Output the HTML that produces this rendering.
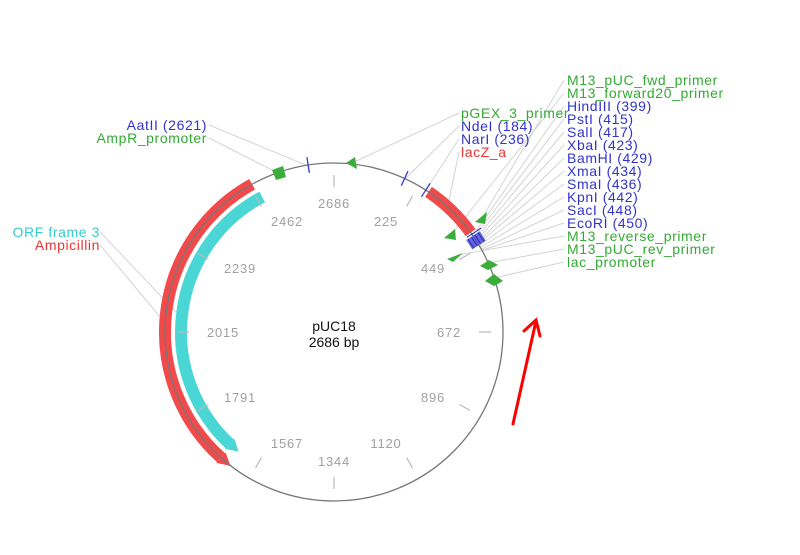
<!DOCTYPE html>
<html><head><meta charset="utf-8"><style>
body{margin:0;background:#fff}
svg{display:block;font-family:"Liberation Sans",sans-serif}
</style></head><body>
<svg width="800" height="555" viewBox="0 0 800 555" xmlns="http://www.w3.org/2000/svg">
<g stroke="#d4d4d4" stroke-width="1" fill="none">
<line x1="209" y1="125" x2="308" y2="166"/>
<line x1="209" y1="138" x2="278" y2="173"/>
<line x1="100" y1="232" x2="176" y2="312"/>
<line x1="100" y1="245" x2="161" y2="318"/>
<line x1="459" y1="113" x2="352" y2="163"/>
<line x1="459" y1="126" x2="404" y2="180"/>
<line x1="459" y1="139" x2="426" y2="190"/>
<line x1="459" y1="152" x2="448" y2="205"/>
<line x1="564" y1="80" x2="482" y2="218"/>
<line x1="564" y1="93" x2="452" y2="234"/>
<line x1="564" y1="106" x2="474" y2="234"/>
<line x1="564" y1="119" x2="475" y2="236"/>
<line x1="564" y1="132" x2="476" y2="238"/>
<line x1="564" y1="145" x2="477" y2="240"/>
<line x1="564" y1="158" x2="478" y2="242"/>
<line x1="564" y1="171" x2="479" y2="243"/>
<line x1="564" y1="184" x2="480" y2="245"/>
<line x1="564" y1="197" x2="481" y2="247"/>
<line x1="564" y1="210" x2="482" y2="249"/>
<line x1="564" y1="223" x2="483" y2="250"/>
<line x1="564" y1="236" x2="458" y2="255"/>
<line x1="564" y1="249" x2="488" y2="263"/>
<line x1="564" y1="262" x2="494" y2="278"/>
</g>
<path d="M252.1,184.2 A169,169 0 0 0 220.9,457.6" stroke="#f24a4a" stroke-width="12" fill="none"/>
<polygon points="216.2,462.8 225.6,452.4 230.5,466" fill="#f24a4a"/>
<path d="M262.2,196.9 A153,153 0 0 0 229.7,443.9" stroke="#4bd6d6" stroke-width="12" fill="none"/>
<polygon points="224.9,449.0 234.4,438.8 238.5,451.5" fill="#4bd6d6"/>
<path d="M428.5,191.9 A169,169 0 0 1 470.7,232.7" stroke="#f24a4a" stroke-width="12" fill="none"/>
<circle cx="334" cy="332" r="169" stroke="#777" stroke-width="1.3" fill="none"/>
<g stroke="#bbb" stroke-width="1.2">
<g transform="translate(334,332)">
<line x1="0" y1="-145" x2="0" y2="-157" transform="rotate(0)"/>
<line x1="0" y1="-145" x2="0" y2="-157" transform="rotate(30)"/>
<line x1="0" y1="-145" x2="0" y2="-157" transform="rotate(60)"/>
<line x1="0" y1="-145" x2="0" y2="-157" transform="rotate(90)"/>
<line x1="0" y1="-145" x2="0" y2="-157" transform="rotate(120)"/>
<line x1="0" y1="-145" x2="0" y2="-157" transform="rotate(150)"/>
<line x1="0" y1="-145" x2="0" y2="-157" transform="rotate(180)"/>
<line x1="0" y1="-145" x2="0" y2="-157" transform="rotate(210)"/>
<line x1="0" y1="-145" x2="0" y2="-157" transform="rotate(240)"/>
<line x1="0" y1="-145" x2="0" y2="-157" transform="rotate(270)"/>
<line x1="0" y1="-145" x2="0" y2="-157" transform="rotate(300)"/>
<line x1="0" y1="-145" x2="0" y2="-157" transform="rotate(330)"/>
</g></g>
<g fill="#a0a0a0" font-size="13" letter-spacing="0.8" text-anchor="middle">
<text x="334" y="208">2686</text>
<text x="386" y="226">225</text>
<text x="433" y="273">449</text>
<text x="449" y="337">672</text>
<text x="433" y="402">896</text>
<text x="386" y="448">1120</text>
<text x="334" y="466">1344</text>
<text x="287" y="448">1567</text>
<text x="240" y="402">1791</text>
<text x="223" y="337">2015</text>
<text x="240" y="273">2239</text>
<text x="287" y="226">2462</text>
</g>
<g stroke="#3a3ad0" stroke-width="1.3" transform="translate(334,332)">
<line x1="0" y1="-161" x2="0" y2="-177" transform="rotate(-8.8)"/>
<line x1="0" y1="-161" x2="0" y2="-177" transform="rotate(24.7)"/>
<line x1="0" y1="-161" x2="0" y2="-177" transform="rotate(32.9)"/>
</g>
<g transform="translate(334,332) rotate(57)">
<rect x="-5" y="-177" width="11" height="16" fill="#4a4ad8" opacity="0.85"/>
<g stroke="#2a2ab8" stroke-width="1">
<line x1="-5" y1="-175" x2="6" y2="-175"/><line x1="-5" y1="-171" x2="6" y2="-171"/>
<line x1="-5" y1="-167" x2="6" y2="-167"/><line x1="-5" y1="-163" x2="6" y2="-163"/>
<line x1="-7" y1="-180" x2="-7" y2="-163"/>
</g></g>
<g fill="#3bad3b">
<polygon points="272,170 283,166 286,177 276,180"/>
<polygon points="346,163 355,157 357,169"/>
<polygon points="475,222 487,212 485,224"/>
<polygon points="444,238 455,229 456,240"/>
<polygon points="447,259 463,253 453,262"/>
<polygon points="480,266 489,260 498,265 488,270"/>
<polygon points="485,281 494,274 503,281 494,286"/>
</g>
<g font-size="14" text-anchor="middle" fill="#111">
<text x="334" y="331">pUC18</text>
<text x="334" y="347">2686 bp</text>
</g>
<g font-size="14" letter-spacing="0.6">
<text x="207" y="130" text-anchor="end" fill="#3333cc">AatII (2621)</text>
<text x="207" y="143" text-anchor="end" fill="#33aa33">AmpR_promoter</text>
<text x="100" y="237" text-anchor="end" fill="#33cccc">ORF frame 3</text>
<text x="100" y="250" text-anchor="end" fill="#ee3333">Ampicillin</text>
<text x="461" y="118" fill="#33aa33">pGEX_3_primer</text>
<text x="461" y="131" fill="#3333cc">NdeI (184)</text>
<text x="461" y="144" fill="#3333cc">NarI (236)</text>
<text x="461" y="157" fill="#ee3333">lacZ_a</text>
<text x="567" y="85" fill="#33aa33">M13_pUC_fwd_primer</text>
<text x="567" y="98" fill="#33aa33">M13_forward20_primer</text>
<text x="567" y="111" fill="#3333cc">HindIII (399)</text>
<text x="567" y="124" fill="#3333cc">PstI (415)</text>
<text x="567" y="137" fill="#3333cc">SalI (417)</text>
<text x="567" y="150" fill="#3333cc">XbaI (423)</text>
<text x="567" y="163" fill="#3333cc">BamHI (429)</text>
<text x="567" y="176" fill="#3333cc">XmaI (434)</text>
<text x="567" y="189" fill="#3333cc">SmaI (436)</text>
<text x="567" y="202" fill="#3333cc">KpnI (442)</text>
<text x="567" y="215" fill="#3333cc">SacI (448)</text>
<text x="567" y="228" fill="#3333cc">EcoRI (450)</text>
<text x="567" y="241" fill="#33aa33">M13_reverse_primer</text>
<text x="567" y="254" fill="#33aa33">M13_pUC_rev_primer</text>
<text x="567" y="267" fill="#33aa33">lac_promoter</text>
</g>
<g stroke="#ff0000" stroke-width="3" fill="none" stroke-linecap="round">
<line x1="513" y1="424" x2="536" y2="321"/>
<polyline points="524,331 536,320 540,336"/>
</g>
</svg>
</body></html>
